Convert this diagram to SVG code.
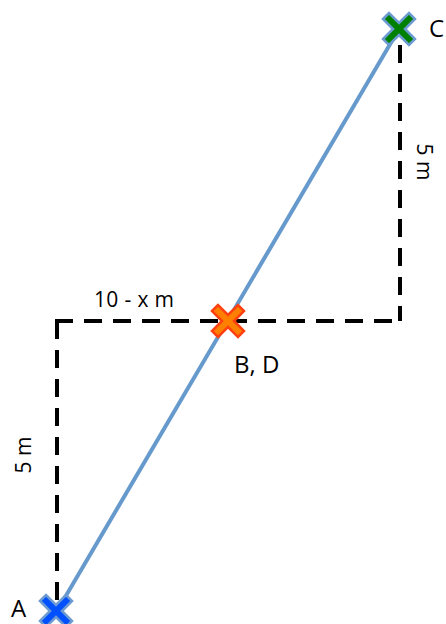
<svg xmlns="http://www.w3.org/2000/svg" width="446" height="624" viewBox="0 0 446 624">
<style>
.dash{stroke:#000;stroke-width:4;stroke-dasharray:18 11;fill:none}
.line{stroke:#6699CC;stroke-width:4;fill:none}
.lbl{font-family:"Open Sans","Liberation Sans",sans-serif;font-size:24px;fill:#000}
.sm{font-size:21px}
</style>
<defs>
<polygon id="x" points="-16,-10 -10,-16 0,-6 10,-16 16,-10 6,0 16,10 10,16 0,6 -10,16 -16,10 -6,0"/>
</defs>
<rect width="446" height="624" fill="#fff"/>
<g id="connectors">
<path class="dash" d="M55,321 H402"/>
<path class="dash" d="M400,45 V321"/>
<path class="dash" d="M57,321 V600"/>
<path class="line" d="M57,611 L399,29"/>
</g>
<g id="C"><use href="#x" x="399" y="29" fill="#008000" stroke="#6C9BD2" stroke-width="2.5"/><text class="lbl" x="429" y="37">C</text></g>
<g id="BD"><use href="#x" x="228" y="321" fill="#FF8000" stroke="#FF4010" stroke-width="2.5"/><text class="lbl" x="234" y="373">B, D</text></g>
<g id="A"><use href="#x" x="56" y="611" fill="#0050FF" stroke="#6C9BD2" stroke-width="2.5"/><text class="lbl" x="11" y="617">A</text></g>
<g id="labels">
<text class="lbl sm" x="94" y="307" textLength="80">10 - x m</text>
<text class="lbl sm" transform="translate(417,162) rotate(90)" text-anchor="middle">5 m</text>
<text class="lbl sm" transform="translate(31,455) rotate(-90)" text-anchor="middle">5 m</text>
</g>
</svg>
